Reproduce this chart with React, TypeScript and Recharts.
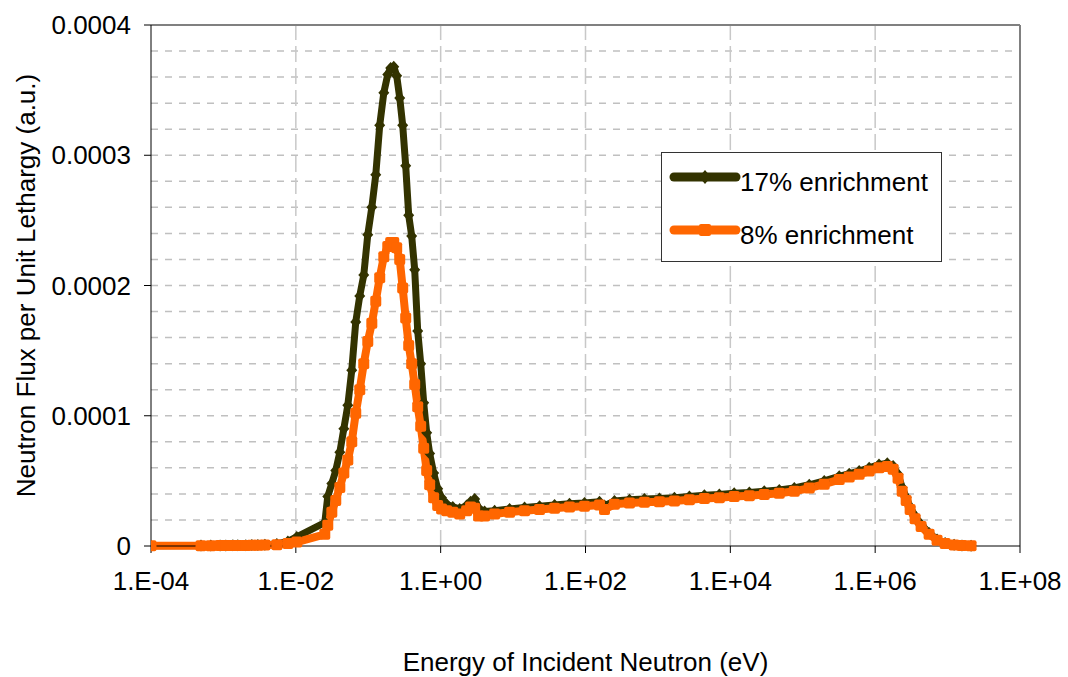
import { LineChart, Line, XAxis, YAxis, ReferenceLine, Legend } from "recharts";

// Energy groups (eV) and flux per unit lethargy for both enrichments
const energy = [
  1.0e-4, 4.9e-4, 6.7e-4, 9.0e-4, 1.08e-3, 1.35e-3, 1.58e-3, 2.04e-3, 2.47e-3, 2.99e-3, 3.74e-3, 5.47e-3, 7.76e-3, 1.03e-2,
  2.51e-2, 2.76e-2, 3.14e-2, 3.56e-2, 4.05e-2, 4.6e-2, 5.22e-2, 5.92e-2, 6.72e-2, 7.63e-2, 8.67e-2, 9.85e-2, 0.112, 0.127, 0.144, 0.164, 0.186,
  0.204, 0.225, 0.247, 0.272, 0.299, 0.329, 0.362, 0.398, 0.438, 0.482, 0.53, 0.583, 0.641, 0.705,
  0.8, 0.91, 1.03, 1.21, 1.47, 1.83, 2.28, 2.59, 2.95, 3.34, 4.04, 5.56,
  8.95, 14.4, 23.2, 37.4, 60.1, 96.8, 156, 183, 251, 405, 651, 1050, 1690, 2720, 4380, 7050, 11300, 18300, 29400, 47400, 76400, 1.23e5, 1.98e5, 3.19e5,
  4.38e5, 6.01e5, 8.26e5, 1.13e6, 1.47e6, 1.77e6, 2.07e6, 2.36e6, 2.68e6, 3.04e6, 3.56e6, 4.31e6, 5.56e6, 7.16e6, 9.24e6, 1.23e7, 1.58e7, 2.11e7,
];

const flux17 = [
  0.2e-6, 0.3e-6, 0.3e-6, 0.4e-6, 0.4e-6, 0.5e-6, 0.5e-6, 0.6e-6, 0.7e-6, 0.8e-6, 1.0e-6, 1.6e-6, 3.5e-6, 7.0e-6,
  18e-6, 38e-6, 48e-6, 58e-6, 72e-6, 90e-6, 108e-6, 135e-6, 172e-6, 192e-6, 208e-6, 239e-6, 260e-6, 285e-6, 323e-6, 348e-6, 362e-6,
  367e-6, 368e-6, 361e-6, 344e-6, 323e-6, 292e-6, 254e-6, 238e-6, 212e-6, 165e-6, 140e-6, 110e-6, 87e-6, 71e-6,
  56e-6, 44e-6, 37e-6, 32e-6, 30e-6, 28.5e-6, 31e-6, 34e-6, 36e-6, 29e-6, 26.5e-6, 27e-6,
  28.5e-6, 29.5e-6, 30.5e-6, 31.5e-6, 32.5e-6, 33e-6, 34e-6, 31e-6, 34.5e-6, 35.5e-6, 36e-6, 36.5e-6, 37e-6, 38e-6, 39e-6, 39.5e-6, 40.5e-6, 41e-6, 42e-6, 43e-6, 44.5e-6, 47e-6, 50e-6, 53.5e-6,
  55.5e-6, 57.5e-6, 60e-6, 62.5e-6, 63.5e-6, 61.5e-6, 55e-6, 45e-6, 37.5e-6, 30e-6, 23e-6, 16.5e-6, 10e-6, 5e-6, 2.3e-6, 1e-6, 0.4e-6, 0.15e-6,
];

const flux8 = [
  0.1e-6, 0.2e-6, 0.2e-6, 0.3e-6, 0.3e-6, 0.3e-6, 0.4e-6, 0.4e-6, 0.5e-6, 0.6e-6, 0.7e-6, 1.0e-6, 2.0e-6, 3.0e-6,
  9e-6, 16e-6, 26e-6, 35e-6, 45e-6, 56e-6, 66e-6, 80e-6, 102e-6, 120e-6, 140e-6, 157e-6, 171e-6, 188e-6, 206e-6, 222e-6, 230e-6,
  233e-6, 233e-6, 229e-6, 220e-6, 198e-6, 175e-6, 154e-6, 140e-6, 124e-6, 107e-6, 92e-6, 75e-6, 58e-6, 47e-6,
  37e-6, 31e-6, 28.5e-6, 27e-6, 26e-6, 24.5e-6, 27e-6, 30e-6, 29e-6, 23e-6, 23e-6, 24.5e-6,
  26e-6, 27e-6, 28e-6, 29e-6, 30e-6, 30.5e-6, 31.5e-6, 28e-6, 32e-6, 33e-6, 33.5e-6, 34e-6, 34.5e-6, 35.5e-6, 36.5e-6, 37e-6, 38e-6, 38.5e-6, 39.5e-6, 40.5e-6, 42e-6, 44.5e-6, 47.5e-6, 51e-6,
  53e-6, 55e-6, 57.5e-6, 60e-6, 61e-6, 59e-6, 52e-6, 42e-6, 35e-6, 28e-6, 21e-6, 15e-6, 9e-6, 4.5e-6, 2e-6, 0.8e-6, 0.3e-6, 0.1e-6,
];

const seriesNames = ["17% enrichment", "8% enrichment"];
const xTicks = [1e-4, 1e-2, 1, 1e2, 1e4, 1e6, 1e8];
const xGrid = [1e-2, 1, 1e2, 1e4, 1e6];
const yTicks = [0, 0.0001, 0.0002, 0.0003, 0.0004];
const yGrid = [
  0.00002, 0.00004, 0.00006, 0.00008, 0.0001, 0.00012, 0.00014, 0.00016, 0.00018, 0.0002,
  0.00022, 0.00024, 0.00026, 0.00028, 0.0003, 0.00032, 0.00034, 0.00036, 0.00038,
];

const data = energy.map((e, i) => ({ e, f17: flux17[i], f8: flux8[i] }));

const FONT = '"Liberation Sans", Arial, sans-serif';
const FS = 26;
const DARK = "#333300";
const ORANGE = "#FF6600";

const fmtExp = (v: number) => {
  const p = Math.round(Math.log10(v));
  return `1.E${p < 0 ? "-" : "+"}${String(Math.abs(p)).padStart(2, "0")}`;
};

const Diamond = (p: any) => {
  const { cx, cy, index } = p;
  if (cx == null || cy == null) return <g key={index} />;
  return (
    <path
      key={index}
      d={`M${cx},${cy - 6} L${cx + 5.5},${cy} L${cx},${cy + 6} L${cx - 5.5},${cy} Z`}
      fill={DARK}
    />
  );
};

const Square = (p: any) => {
  const { cx, cy, index } = p;
  if (cx == null || cy == null) return <g key={index} />;
  return <rect key={index} x={cx - 5.5} y={cy - 5.5} width={11} height={11} rx={2} fill={ORANGE} />;
};

function LegendBox() {
  return (
    <div style={{ width: 281, height: 110, border: "1.5px solid #333", background: "#fff", boxSizing: "border-box" }}>
      <svg width={279} height={107}>
        <line x1={12} y1={24} x2={74} y2={24} stroke={DARK} strokeWidth={9} strokeLinecap="round" />
        <path d="M43,17 L49,24 L43,31 L37,24 Z" fill={DARK} />
        <text x={78} y={38} fontSize={FS} fontFamily={FONT} fill="#000">{seriesNames[0]}</text>
        <line x1={12} y1={77} x2={74} y2={77} stroke={ORANGE} strokeWidth={9} strokeLinecap="round" />
        <rect x={37} y={71} width={12} height={12} rx={2} fill={ORANGE} />
        <text x={78} y={91} fontSize={FS} fontFamily={FONT} fill="#000">{seriesNames[1]}</text>
      </svg>
    </div>
  );
}

export default function App() {
  const tick = { fill: "#000", fontSize: FS, fontFamily: FONT };
  return (
    <div style={{ position: "absolute", left: 0, top: 0, width: 1068, height: 677, background: "#fff" }}>
      <LineChart width={1068} height={677} data={data} margin={{ top: 25, right: 48, bottom: 0, left: 0 }}>
        {yGrid.map((v) => (
          <ReferenceLine key={`h${v}`} y={v} stroke="#c0c0c0" strokeWidth={1.5} strokeDasharray="7 7" />
        ))}
        {xGrid.map((v) => (
          <ReferenceLine key={`v${v}`} x={v} stroke="#c8c8c8" strokeWidth={1.5} strokeDasharray="16 6" />
        ))}
        <ReferenceLine y={0.0004} stroke="#808080" strokeWidth={2} />
        <ReferenceLine x={1e8} stroke="#808080" strokeWidth={2} />
        <XAxis
          dataKey="e"
          type="number"
          scale="log"
          domain={[1e-4, 1e8]}
          ticks={xTicks}
          tickFormatter={fmtExp}
          allowDataOverflow
          height={131}
          stroke="#000"
          tickSize={7}
          tickMargin={19}
          tick={tick}
          label={{
            value: "Energy of Incident Neutron (eV)",
            position: "insideBottom",
            offset: 6,
            style: { fill: "#000", fontSize: FS, fontFamily: FONT },
          }}
        />
        <YAxis
          type="number"
          domain={[0, 0.0004]}
          ticks={yTicks}
          tickFormatter={(v: number) => (v === 0 ? "0" : v.toFixed(4))}
          width={151}
          stroke="#000"
          tickSize={7}
          tickMargin={13}
          tick={tick}
          label={{
            value: "Neutron Flux per Unit Lethargy (a.u.)",
            angle: -90,
            position: "insideLeft",
            offset: 26,
            style: { fill: "#000", fontSize: FS, fontFamily: FONT, textAnchor: "middle" },
          }}
        />
        <Line
          type="linear"
          dataKey="f17"
          name={seriesNames[0]}
          stroke={DARK}
          strokeWidth={7}
          strokeLinejoin="round"
          dot={Diamond}
          isAnimationActive={false}
        />
        <Line
          type="linear"
          dataKey="f8"
          name={seriesNames[1]}
          stroke={ORANGE}
          strokeWidth={8}
          strokeLinejoin="round"
          dot={Square}
          isAnimationActive={false}
        />
        <Legend
          layout="vertical"
          align="center"
          verticalAlign="middle"
          wrapperStyle={{ position: "absolute", left: 661, top: 152, width: 281, height: 110 }}
          content={() => <LegendBox />}
        />
      </LineChart>
    </div>
  );
}
